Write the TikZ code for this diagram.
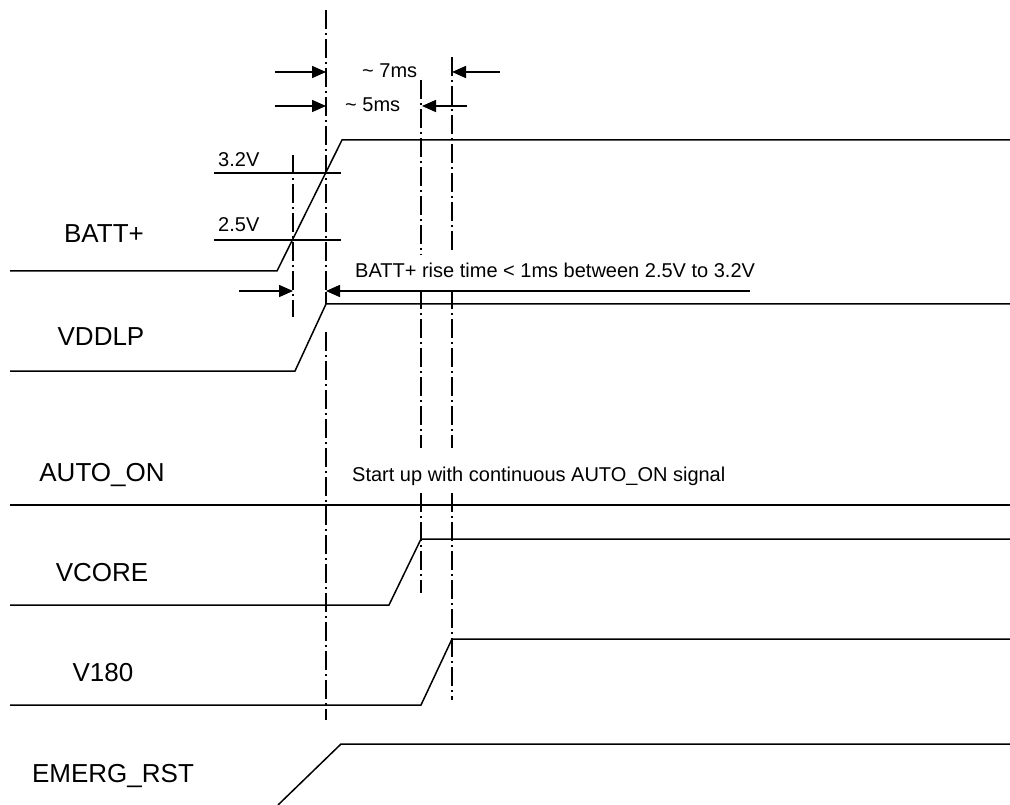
\documentclass[tikz,border=0pt]{standalone}
\usepackage{fontspec}
\setmainfont{Liberation Sans}
\usetikzlibrary{arrows.meta}
\begin{document}
\begin{tikzpicture}[x=1pt,y=-1pt,
  sig/.style={line width=1.5pt, line join=miter},
  ddot/.style={line width=2pt, dash pattern=on 19pt off 4pt on 1.8pt off 4.2pt},
  dimarrow/.style={line width=1.5pt, -{Triangle[length=14pt,width=12pt]}},
  lbl/.style={font=\fontsize{26}{30}\selectfont, anchor=base, inner sep=0pt},
  note/.style={font=\fontsize{20}{24}\selectfont, anchor=base west, inner sep=0pt},
]
\useasboundingbox (0,0) rectangle (1010,805);

% ---- signal labels
\node[lbl] (nbatt) at (104,243) {BATT+};
\node[lbl] (nvddlp) at (101,345) {VDDLP};
\node[lbl] (nauto) at (102,481) {AUTO\_ON};
\node[lbl] (nvcore) at (102,581) {VCORE};
\node[lbl] (nv180) at (103,681) {V180};
\node[lbl] (nemerg) at (113,782) {EMERG\_RST};

% ---- annotations
\node[note] (t32) at (218,167) {3.2V};
\node[note] (t25) at (218,232) {2.5V};
\node[note] (t7) at (362,78) {\textasciitilde\ 7ms};
\node[note] (t5) at (345,112) {\textasciitilde\ 5ms};
\node[note] (trise) at (355,278) {BATT+ rise time < 1ms between 2.5V to 3.2V};
\node[note] (tstart) at (352,481) {Start up with continuous AUTO\_ON signal};

% ---- waveform coordinates
\coordinate (b0) at (10,271);  \coordinate (b1) at (277,271);
\coordinate (b2) at (342,140); \coordinate (b3) at (1010,140);
\coordinate (v0) at (10,371);  \coordinate (v1) at (295,371);
\coordinate (v2) at (326,304); \coordinate (v3) at (1010,304);
\coordinate (vs) at (326,292);
\coordinate (a0) at (10,505);  \coordinate (a1) at (1010,505);
\coordinate (c0) at (10,605);  \coordinate (c1) at (389,605);
\coordinate (c2) at (421,539); \coordinate (c3) at (1010,539);
\coordinate (e0) at (10,705);  \coordinate (e1) at (421,705);
\coordinate (e2) at (452,639); \coordinate (e3) at (1010,639);
\coordinate (r0) at (278,805); \coordinate (r1) at (341,744);
\coordinate (r2) at (1010,744);
\coordinate (h32a) at (214,173); \coordinate (h32b) at (341,173);
\coordinate (h25a) at (214,240); \coordinate (h25b) at (341,240);

\draw[sig] (b0) -- (b1) -- (b2) -- (b3);
\draw[sig] (v0) -- (v1) -- (v2) -- (v3);
\draw[sig] (vs) -- (v2);
\draw[sig] (a0) -- (a1);
\draw[sig] (c0) -- (c1) -- (c2) -- (c3);
\draw[sig] (e0) -- (e1) -- (e2) -- (e3);
\draw[sig] (r0) -- (r1) -- (r2);
\draw[sig] (h32a) -- (h32b);
\draw[sig] (h25a) -- (h25b);

% ---- dash-dot markers
\coordinate (m1a) at (293,155); \coordinate (m1b) at (293,317);
\coordinate (m2a) at (326,10);  \coordinate (m2b) at (326,292);
\coordinate (m2c) at (326,332); \coordinate (m2d) at (326,720);
\coordinate (m3a) at (421,80);  \coordinate (m3b) at (421,255);
\coordinate (m3c) at (421,290); \coordinate (m3d) at (421,448);
\coordinate (m3e) at (421,493); \coordinate (m3f) at (421,593);
\coordinate (m4a) at (452,57);  \coordinate (m4b) at (452,252);
\coordinate (m4c) at (452,290); \coordinate (m4d) at (452,448);
\coordinate (m4e) at (452,493); \coordinate (m4f) at (452,700);

\draw[ddot] (m1a) -- (m1b);
\draw[ddot] (m2a) -- (m2b);
\draw[ddot] (m2c) -- (m2d);
\draw[ddot] (m3a) -- (m3b);
\draw[ddot] (m3c) -- (m3d);
\draw[ddot] (m3e) -- (m3f);
\draw[ddot] (m4a) -- (m4b);
\draw[ddot] (m4c) -- (m4d);
\draw[ddot] (m4e) -- (m4f);

% ---- dimension arrows
\coordinate (d7l) at (275,72);  \coordinate (d7lt) at (326,72);
\coordinate (d7r) at (500,72);  \coordinate (d7rt) at (452,72);
\coordinate (d5l) at (275,106); \coordinate (d5lt) at (326,106);
\coordinate (d5r) at (467,106); \coordinate (d5rt) at (422,106);
\coordinate (dxl) at (239,291); \coordinate (dxlt) at (293,291);
\coordinate (dxr) at (750,291); \coordinate (dxrt) at (326,291);

\draw[dimarrow] (d7l) -- (d7lt);
\draw[dimarrow] (d7r) -- (d7rt);
\draw[dimarrow] (d5l) -- (d5lt);
\draw[dimarrow] (d5r) -- (d5rt);
\draw[dimarrow] (dxl) -- (dxlt);
\draw[dimarrow] (dxr) -- (dxrt);
\end{tikzpicture}
\end{document}
